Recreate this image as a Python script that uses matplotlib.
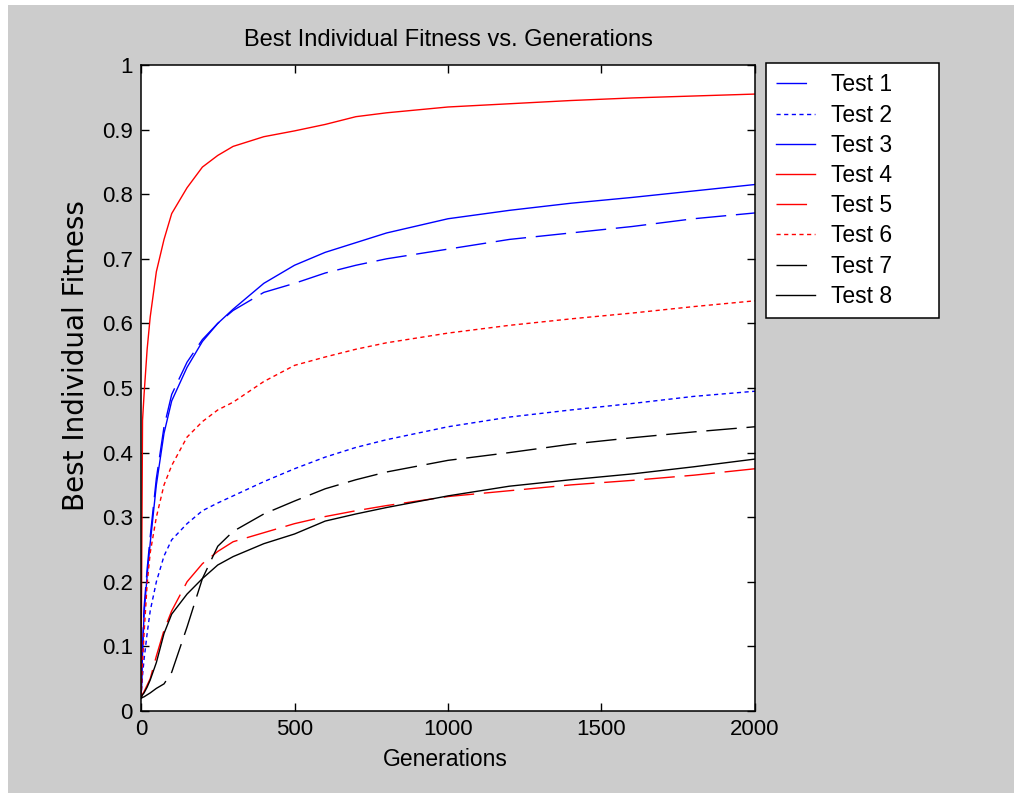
import matplotlib
matplotlib.use('Agg')
import matplotlib.pyplot as plt
from matplotlib.patches import Rectangle


plt.rcParams['font.family'] = ['Liberation Sans', 'DejaVu Sans']

gens = [0, 2, 5, 10, 20, 30, 50, 75, 100, 150, 200, 250, 300, 400, 500,
        600, 700, 800, 1000, 1200, 1400, 1600, 1800, 2000]

test1 = [0.02, 0.05, 0.10, 0.16, 0.22, 0.27, 0.36, 0.44, 0.49, 0.54, 0.575, 0.60,
         0.62, 0.648, 0.662, 0.678, 0.69, 0.70, 0.715, 0.73, 0.74, 0.75, 0.762, 0.771]
test2 = [0.02, 0.035, 0.055, 0.08, 0.12, 0.155, 0.20, 0.24, 0.265, 0.29, 0.31, 0.322,
         0.333, 0.355, 0.375, 0.393, 0.408, 0.42, 0.44, 0.455, 0.466, 0.476, 0.487, 0.495]
test3 = [0.02, 0.04, 0.09, 0.15, 0.21, 0.26, 0.35, 0.43, 0.48, 0.532, 0.572, 0.60,
         0.622, 0.662, 0.69, 0.71, 0.725, 0.74, 0.762, 0.775, 0.786, 0.795, 0.805, 0.815]
test4 = [0.02, 0.20, 0.45, 0.49, 0.56, 0.61, 0.68, 0.73, 0.77, 0.81, 0.842, 0.86,
         0.874, 0.889, 0.898, 0.908, 0.92, 0.926, 0.935, 0.940, 0.945, 0.949, 0.952, 0.955]
test5 = [0.02, 0.022, 0.026, 0.03, 0.04, 0.05, 0.085, 0.125, 0.155, 0.20, 0.228, 0.247,
         0.262, 0.276, 0.29, 0.301, 0.31, 0.318, 0.332, 0.341, 0.35, 0.357, 0.365, 0.375]
test6 = [0.02, 0.04, 0.075, 0.12, 0.197, 0.245, 0.30, 0.35, 0.38, 0.424, 0.448, 0.466,
         0.478, 0.51, 0.535, 0.548, 0.56, 0.57, 0.585, 0.597, 0.607, 0.616, 0.626, 0.635]
test7 = [0.02, 0.02, 0.021, 0.022, 0.025, 0.028, 0.035, 0.042, 0.06, 0.13, 0.205, 0.255,
         0.278, 0.305, 0.325, 0.344, 0.358, 0.37, 0.388, 0.40, 0.413, 0.423, 0.432, 0.44]
test8 = [0.02, 0.022, 0.025, 0.028, 0.037, 0.048, 0.075, 0.12, 0.15, 0.181, 0.205, 0.226,
         0.239, 0.259, 0.274, 0.294, 0.305, 0.315, 0.333, 0.348, 0.358, 0.367, 0.378, 0.39]

labels = ['Test 1', 'Test 2', 'Test 3', 'Test 4', 'Test 5', 'Test 6', 'Test 7', 'Test 8']

long_dash = (0, (22, 7))
short_dash = (0, (3, 2.5))
styles = [('#0000ff', long_dash), ('#0000ff', short_dash), ('#0000ff', '-'),
          ('#ff0000', '-'), ('#ff0000', long_dash), ('#ff0000', short_dash),
          ('#000000', long_dash), ('#000000', '-')]

W, H = 1014, 793
fig = plt.figure(figsize=(W / 100, H / 100), dpi=100)
fig.patch.set_facecolor('white')
# gray window background, leaving the thin white strip at top and left
fig.patches.append(Rectangle((8 / W, 0), 1, 1 - 5 / H, transform=fig.transFigure,
                             facecolor='#cccccc', edgecolor='none', zorder=-10))

ax = fig.add_axes([141 / W, 1 - 711 / H, 614 / W, 646 / H])
ax.set_facecolor('white')

handles = []
for vals, lab, (col, ls) in zip([test1, test2, test3, test4, test5, test6, test7, test8],
                                labels, styles):
    line, = ax.plot(gens, vals, color=col, linestyle=ls, linewidth=1.0, label=lab)
    handles.append(line)

ax.set_xlim(0, 2000)
ax.set_ylim(0, 1)
ax.set_xticks([0, 500, 1000, 1500, 2000])
ax.set_yticks([i / 10 for i in range(11)])
ax.set_yticklabels(['0', '0.1', '0.2', '0.3', '0.4', '0.5', '0.6', '0.7', '0.8', '0.9', '1'])
ax.tick_params(direction='in', length=5.8, width=1.0, top=True, right=True,
               labelsize=16, pad=6, colors='black')
for sp in ax.spines.values():
    sp.set_linewidth(1.1)
    sp.set_color('black')

ax.set_title('Best Individual Fitness vs. Generations', fontsize=17, pad=14)
ax.set_xlabel('Generations', fontsize=16.5)
ax.xaxis.set_label_coords(0.496, -0.058)
ax.set_ylabel('Best Individual Fitness', fontsize=20, family='DejaVu Sans')
ax.yaxis.set_label_coords(-0.083, 0.55)

leg = fig.legend(handles=handles, loc='upper left',
                 bbox_to_anchor=(766 / W, 1 - 315 / H, (939 - 766) / W, (315 - 63) / H),
                 bbox_transform=fig.transFigure, mode='expand', borderaxespad=0,
                 fontsize=16.5, handlelength=1.7, handletextpad=0.7,
                 labelspacing=0.315, borderpad=0.45, fancybox=False, framealpha=1)
frame = leg.get_frame()
frame.set_edgecolor('black')
frame.set_linewidth(1.1)

fig.savefig('out.png', dpi=100, facecolor=fig.get_facecolor())
